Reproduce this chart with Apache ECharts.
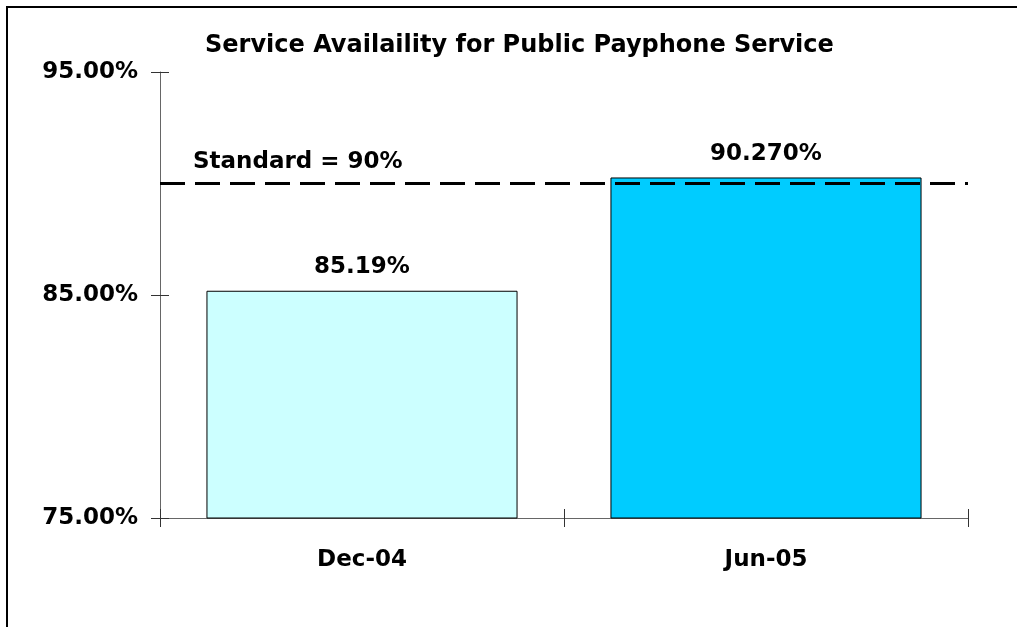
<!DOCTYPE html>
<html>
<head>
<meta charset="utf-8">
<script src="https://cdn.jsdelivr.net/npm/echarts@6/dist/echarts.min.js"></script>
<style>
body { margin: 0; background: #fff; }
#chart { width: 1017px; height: 627px; }
.frame {
    position: absolute; left: 6px; top: 6px; width: 1020px; height: 630px;
    border-left: 2px solid #000; border-top: 2px solid #000;
    pointer-events: none;
}
</style>
</head>
<body>
<div id="chart"></div>
<div class="frame"></div>
<script>
// data
const categories = ['Dec-04', 'Jun-05'];
const availability = [85.19, 90.27];
const valueLabels = ['85.19%', '90.270%'];
const barColors = ['#CCFFFF', '#00CCFF'];
const standard = 90;
const yTicks = [75, 85, 95];

const font = 'DejaVu Sans';
const chart = echarts.init(document.getElementById('chart'));

const hidden = { show: false };
const clearLine = { show: true, lineStyle: { color: 'rgba(0,0,0,0)' } };
const tickStyle = { color: '#333', width: 1 };

chart.setOption({
    animation: false,
    title: {
        text: 'Service Availaility for Public Payphone Service',
        left: 200,
        top: 29,
        textStyle: { fontFamily: font, fontSize: 24, fontWeight: 'bold', color: '#000' }
    },
    grid: { left: 160, right: 49, top: 72, bottom: 109 },
    xAxis: [{
        type: 'category',
        data: categories,
        axisLine: { show: true, lineStyle: { color: '#666', width: 1 } },
        axisTick: { show: true, length: 9, lineStyle: tickStyle },
        axisLabel: {
            margin: 31,
            fontFamily: font, fontSize: 23, fontWeight: 'bold', color: '#000'
        }
    }, {
        type: 'category',
        data: categories,
        position: 'bottom',
        axisLine: clearLine,
        axisTick: { show: true, inside: true, length: 9, lineStyle: tickStyle },
        axisLabel: hidden
    }],
    yAxis: [{
        type: 'value',
        min: 75,
        max: 95,
        splitLine: hidden,
        axisLine: { show: true, lineStyle: { color: '#666', width: 1 } },
        axisTick: { show: true, length: 9, customValues: yTicks, lineStyle: tickStyle },
        axisLabel: {
            margin: 22,
            customValues: yTicks,
            formatter: v => v.toFixed(2) + '%',
            fontFamily: font, fontSize: 23, fontWeight: 'bold', color: '#000'
        }
    }, {
        type: 'value',
        min: 75,
        max: 95,
        position: 'left',
        splitLine: hidden,
        axisLine: clearLine,
        axisTick: { show: true, inside: true, length: 9, customValues: yTicks, lineStyle: tickStyle },
        axisLabel: hidden
    }],
    series: [{
        type: 'bar',
        barWidth: '77%',
        data: availability.map((v, i) => ({
            value: v,
            itemStyle: { color: barColors[i] },
            label: { formatter: valueLabels[i] }
        })),
        itemStyle: { borderColor: '#000', borderWidth: 1 },
        label: {
            show: true,
            position: 'top',
            distance: 12,
            fontFamily: font, fontSize: 23, fontWeight: 'bold', color: '#000'
        },
        markLine: {
            silent: true,
            symbol: 'none',
            lineStyle: { color: '#000', width: 3, type: [25, 10] },
            label: {
                show: true,
                position: 'insideStartTop',
                distance: [33, 10],
                formatter: 'Standard = 90%',
                fontFamily: font, fontSize: 23, fontWeight: 'bold', color: '#000'
            },
            data: [{ yAxis: standard }]
        }
    }]
});
</script>
</body>
</html>
